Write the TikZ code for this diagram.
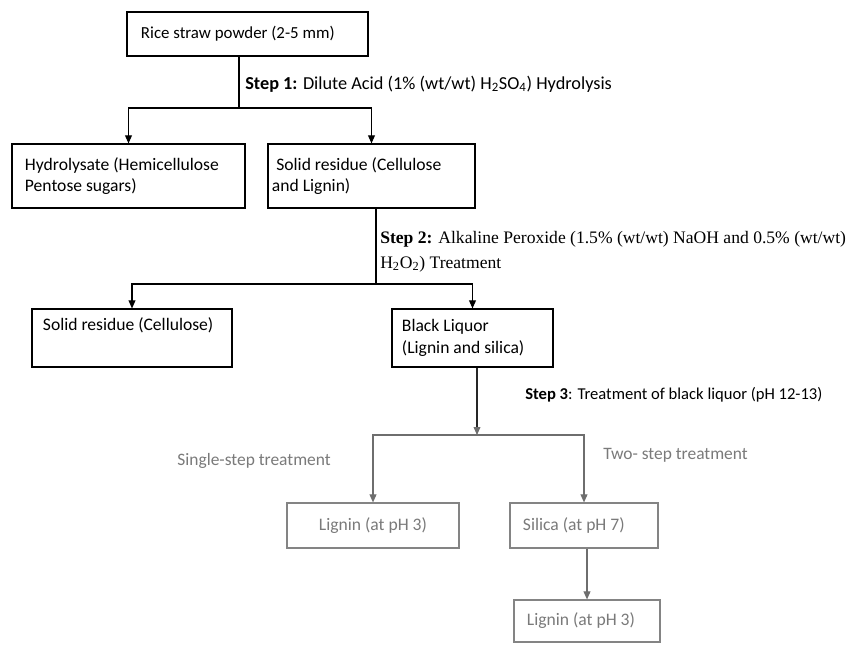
\documentclass[tikz,border=0pt]{standalone}
\usepackage{fontspec}
\usepackage{xcolor}
\setmainfont{Carlito}
\newfontfamily\timesfont{Liberation Serif}
\usetikzlibrary{arrows.meta}
\definecolor{lowgray}{HTML}{7A7A7A}
\definecolor{linegray}{HTML}{6E6E6E}

\begin{document}
\begin{tikzpicture}[
  x=0.025cm, y=-0.025cm,
  box/.style={draw, line width=0.8pt, align=flush left, inner ysep=0pt,
              font=\fontsize{12.5}{15.5}\selectfont},
  gbox/.style={box, draw=linegray!85, text=lowgray},
  arr/.style={-{Triangle[length=2mm, width=1.7mm]}, line width=0.8pt},
  garr/.style={arr, draw=linegray},
  lbl/.style={inner sep=0pt, font=\fontsize{13}{15.5}\selectfont},
  glbl/.style={inner sep=0pt, text=lowgray, font=\fontsize{12.4}{15.5}\selectfont}
]
  \useasboundingbox[fill=white] (0,0) rectangle (854,644);

  %--- Stage 0 ---
  \node[box, font=\fontsize{12}{15}\selectfont, minimum width=6.025cm, minimum height=1.1cm,
        text width=5.325cm, inner xsep=0.35cm] (rice) at (247.5,34)
       {Rice straw powder (2-5 mm)};
  \coordinate (j1) at (239,108);
  \node[lbl, anchor=west] (step1) at (245,84)
       {\textbf{Step 1:} Dilute Acid (1\% (wt/wt) H\textsubscript{2}SO\textsubscript{4}) Hydrolysis};

  %--- Stage 1 ---
  \node[box, minimum width=5.825cm, minimum height=1.6cm,
        text width=5.175cm, inner xsep=0.325cm] (hydro) at (128.5,176)
       {Hydrolysate (Hemicellulose\\Pentose sugars)};
  \node[box, minimum width=5.175cm, minimum height=1.6cm,
        text width=4.975cm, inner xsep=0.1cm] (solid) at (371.5,176)
       {\hspace*{0.25em}Solid residue (Cellulose\\and Lignin)};
  \coordinate (j2) at (376,284);
  \node[lbl, anchor=north west, align=left,
        font=\timesfont\fontsize{12.5}{17.5}\selectfont] (step2) at (380,231)
       {\textbf{Step 2:} Alkaline Peroxide (1.5\% (wt/wt) NaOH and 0.5\% (wt/wt)\\
        H\textsubscript{2}O\textsubscript{2}) Treatment};

  %--- Stage 2 ---
  \node[box, minimum width=5cm, minimum height=1.45cm,
        text width=4.45cm, inner xsep=0.275cm] (cell) at (132,338)
       {Solid residue (Cellulose)\\\strut};
  \node[box, minimum width=4.025cm, minimum height=1.45cm,
        text width=3.525cm, inner xsep=0.25cm] (liquor) at (472.5,338)
       {Black Liquor\\(Lignin and silica)};
  \coordinate (j3) at (477,435);
  \node[lbl, font=\fontsize{11.8}{15}\selectfont, anchor=west] (step3) at (525,395)
       {\textbf{Step 3}: Treatment of black liquor (pH 12-13)};

  %--- Stage 3 ---
  \node[glbl, anchor=east] (single) at (331,461) {Single-step treatment};
  \node[glbl, anchor=west] (twostep) at (603,455) {Two- step treatment};
  \node[gbox, align=center, minimum width=4.3cm, minimum height=1.125cm] (lig1) at (373,525.5)
       {Lignin (at pH 3)};
  \node[gbox, minimum width=3.7cm, minimum height=1.125cm,
        text width=3.05cm, inner xsep=0.325cm] (sil) at (584,525.5)
       {Silica (at pH 7)};
  \node[gbox, minimum width=3.65cm, minimum height=1.05cm,
        text width=3cm, inner xsep=0.325cm] (lig2) at (587,621)
       {Lignin (at pH 3)};

  % Edges
  \draw[line width=0.8pt] (rice.south -| j1) -- (j1);
  \draw[arr] (j1) -| (hydro.north);
  \draw[arr] (j1) -| (solid.north);
  \draw[line width=0.8pt] (solid.south -| j2) -- (j2);
  \draw[arr] (j2) -| (cell.north);
  \draw[arr] (j2) -| (liquor.north);
  \draw[arr, draw=black!85, -{Triangle[length=2mm, width=1.7mm, color=linegray]}]
       (liquor.south -| j3) -- (j3);
  \draw[garr] (j3) -| (lig1.north);
  \draw[garr] (j3) -| (sil.north);
  \draw[garr] (sil.south -| lig2) -- (lig2.north);
\end{tikzpicture}
\end{document}
